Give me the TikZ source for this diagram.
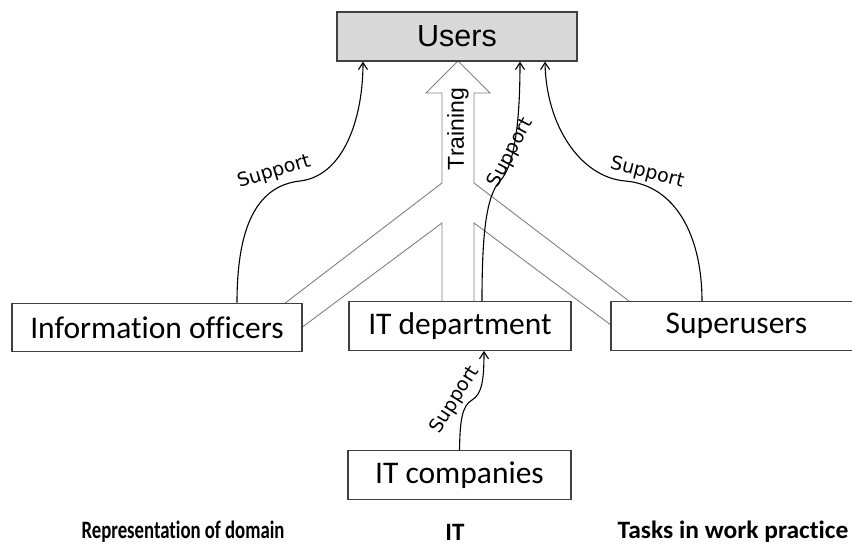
\documentclass[tikz,border=0pt]{standalone}
\usepackage{fontspec}
\setmainfont{Carlito}[Ligatures=NoCommon]
\newfontfamily\arialfont{Liberation Sans}
\newfontfamily\verdfont{DejaVu Sans}
\usetikzlibrary{arrows.meta}

\definecolor{usersgray}{HTML}{D9D9D9}
\definecolor{boxline}{HTML}{404040}
\definecolor{trainline}{HTML}{808080}

\begin{document}
\begin{tikzpicture}[x=1pt,y=-1pt,
  actor/.style={draw=boxline, line width=1.2pt, fill=white, inner sep=0pt,
    minimum height=48.5pt, font=\fontsize{31.5}{34}\selectfont},
  supp/.style={draw=black, line width=1.1pt, -{Straight Barb[length=7pt,width=9pt]}},
  supplabel/.style={font=\verdfont\fontsize{19}{21}\selectfont, inner sep=0pt},
  colhead/.style={font=\bfseries\fontsize{25}{27}\selectfont, inner sep=0pt}]
\useasboundingbox (0,0) rectangle (852,553);

% descender of the clipped heading above the picture
\node[font=\bfseries\fontsize{31.5}{34}\selectfont, inner sep=0pt, anchor=base west] (headp) at (427,-5.5) {p};

% hollow training arrow, branching down to the three actors
\draw[trainline, line width=0.9pt]
  (250,330) -- (442,183) -- (442,93) -- (426,93) -- (458,61) -- (490,93)
  -- (474,93) -- (474,183) -- (667,330)
  (631,340) -- (474,223) -- (474,320) -- (442,320) -- (442,223) -- (285,340);

% actors
\node[actor, fill=usersgray, draw=boxline, minimum width=240pt, minimum height=49pt,
      font=\arialfont\fontsize{30.5}{33}\selectfont] (users) at (457,36.5) {Users};
\node[actor, minimum width=290pt] (info) at (157,327.5) {Information officers};
\node[actor, minimum width=222pt] (itdept) at (460,326) {IT department};
\node[actor, minimum width=251pt] (super) at (736.5,326) {Superusers};
\node[actor, minimum width=223pt] (itcomp) at (459.5,475) {IT companies};

\node[font=\arialfont\fontsize{23}{25}\selectfont, inner sep=0pt, rotate=90] (train) at (458,129) {Training};

% support relations
\draw[supp] ([xshift=80pt]info.north) .. controls (237,230) and (255,186) .. (300,181)
  .. controls (343,176) and (363,120) .. ([xshift=-94pt]users.south);
\node[supplabel, rotate=17] (lsup) at (274,172) {Support};

\draw[supp] ([xshift=-34.5pt]super.north) .. controls (702,235) and (675,185) .. (625,181)
  .. controls (580,177) and (546,125) .. ([xshift=88pt]users.south);
\node[supplabel, rotate=-14] (rsup) at (647,173) {Support};

\draw[supp] ([xshift=22pt]itdept.north) .. controls (482,235) and (486,196) .. (500,181)
  .. controls (515,165) and (520,120) .. ([xshift=63pt]users.south);
\node[supplabel, rotate=62] (msup) at (511,153) {Support};

\draw[supp] (itcomp.north) .. controls (460,420) and (462,406) .. (472,400)
  .. controls (482,394) and (484,380) .. ([xshift=24pt]itdept.south);
\node[supplabel, rotate=58] (bsup) at (455,400) {Support};

% column headings
\node[colhead, xscale=0.75] (rep) at (183,532) {Representation of domain};
\node[colhead] (itcol) at (455,532) {IT};
\node[colhead, xscale=1.02] (tasks) at (733,532) {Tasks in work practice};
\end{tikzpicture}
\end{document}
